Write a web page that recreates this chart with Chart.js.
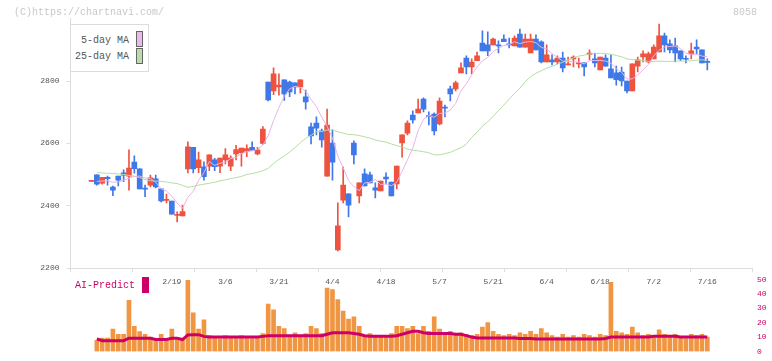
<!DOCTYPE html>
<html><head><meta charset="utf-8">
<script src="https://cdn.jsdelivr.net/npm/chart.js@4/dist/chart.umd.min.js"></script>
<style>
html,body{margin:0;padding:0;background:#fff;}
#wrap{position:relative;width:772px;height:361px;overflow:hidden;font-family:"Liberation Mono","DejaVu Sans Mono",monospace;}
canvas{position:absolute;left:0;}
#c1{top:0;}
#c2{top:270px;}
.t{position:absolute;white-space:pre;line-height:10px;font-size:10px;}
</style></head><body>
<div id="wrap">
<canvas id="c1" width="772" height="300"></canvas>
<canvas id="c2" width="772" height="91"></canvas>
<div class="t" style="left:14px;top:8px;color:#c8c8c8">(C)https://chartnavi.com/</div>
<div class="t" style="left:733px;top:8px;color:#c8c8c8">8058</div>
<div style="position:absolute;left:70px;top:24px;width:77px;height:46px;border:1px solid #dcdcdc;background:#fff;"></div>
<div class="t" style="left:81px;top:36px;color:#555">5-day MA</div>
<div class="t" style="left:75px;top:52px;color:#555">25-day MA</div>
<div style="position:absolute;left:136px;top:31px;width:5px;height:14px;border:1px solid #666;background:#ebb8eb;"></div>
<div style="position:absolute;left:136px;top:48px;width:5px;height:14px;border:1px solid #666;background:#b9dcac;"></div>
<div class="t" style="left:75px;top:281px;color:#cc0066">AI-Predict</div>
<div style="position:absolute;left:142px;top:277px;width:7px;height:16px;background:#cc0066;"></div>
</div>
<script>
// ---- data ----
const tickLabels = ['2/19','3/6','3/21','4/4','4/18','5/7','5/21','6/4','6/18','7/2','7/16'];
const tickIndex  = [15,25,35,45,55,65,75,85,95,105,115];
const priceTicks = [2200,2400,2600,2800];
const volTicks   = [0,10,20,30,40,50];

const open = [2478,2499,2472,2491,2460,2495,2505,2495,2540,2518,2456,2466,2486,2454,2417,2415,2369,2367,2518,2587,
 2522,2525,2527,2547,2527,2547,2527,2566,2570,2575,2587,2566,2600,2797,2768,2781,2804,2797,2794,2781,
 2749,2653,2665,2640,2495,2601,2258,2418,2438,2601,2431,2502,2499,2457,2447,2492,2476,2470,2601,2633,
 2691,2698,2742,2688,2694,2662,2715,2775,2775,2826,2874,2845,2865,2922,2916,2916,2916,2935,2919,2913,
 2951,2909,2890,2935,2926,2861,2868,2861,2874,2852,2871,2855,2858,2885,2871,2836,2874,2839,2826,2829,
 2800,2768,2848,2877,2861,2871,2893,2945,2919,2913,2897,2872,2887,2909,2900,2862];
const close = [2478,2469,2491,2487,2450,2482,2498,2521,2519,2454,2453,2489,2460,2415,2420,2373,2371,2381,2589,2518,
 2547,2493,2563,2525,2553,2563,2553,2580,2585,2583,2577,2579,2646,2739,2823,2787,2759,2765,2781,2804,
 2733,2624,2649,2611,2659,2540,2335,2466,2402,2563,2473,2463,2473,2450,2479,2486,2431,2527,2627,2665,
 2675,2710,2710,2686,2640,2736,2713,2759,2794,2842,2845,2861,2881,2897,2897,2935,2913,2926,2916,2938,
 2909,2935,2935,2900,2861,2884,2861,2874,2842,2853,2877,2858,2845,2890,2858,2877,2848,2810,2804,2800,
 2768,2855,2868,2887,2887,2909,2945,2916,2900,2890,2871,2870,2897,2903,2858,2860];
const high = [2478,2499,2491,2495,2463,2495,2515,2579,2560,2518,2466,2498,2498,2454,2437,2415,2380,2402,2605,2587,
 2572,2541,2563,2552,2553,2583,2560,2594,2585,2595,2605,2587,2654,2797,2842,2823,2804,2800,2794,2804,
 2771,2665,2685,2646,2710,2643,2409,2524,2438,2608,2473,2518,2508,2473,2479,2505,2476,2527,2627,2672,
 2704,2742,2746,2701,2698,2746,2723,2784,2800,2858,2881,2871,2893,2961,2958,2938,2929,2948,2938,2945,
 2967,2951,2951,2948,2929,2916,2884,2881,2893,2877,2881,2874,2858,2900,2890,2877,2884,2884,2848,2845,
 2800,2855,2877,2897,2893,2916,2983,2954,2932,2938,2897,2881,2922,2932,2900,2871];
const low = [2478,2466,2469,2466,2432,2463,2477,2450,2504,2454,2429,2460,2457,2412,2409,2373,2348,2367,2505,2505,
 2506,2482,2512,2512,2506,2534,2512,2547,2527,2557,2577,2563,2597,2736,2756,2755,2738,2750,2759,2762,
 2710,2598,2627,2588,2495,2482,2255,2409,2364,2534,2409,2463,2473,2425,2447,2470,2431,2454,2556,2627,
 2665,2698,2701,2659,2627,2659,2685,2736,2768,2826,2823,2823,2865,2897,2881,2916,2890,2926,2906,2913,
 2909,2909,2890,2900,2858,2861,2852,2855,2829,2852,2845,2842,2816,2868,2845,2836,2848,2810,2787,2784,
 2762,2768,2829,2861,2858,2871,2893,2893,2890,2861,2865,2858,2871,2887,2858,2836];
const ma5 = [null,2478,2479,2480,2475,2476,2482,2488,2494,2495,2489,2487,2475,2454,2447,2431,2408,2392,2427,2446,
 2481,2506,2542,2529,2536,2539,2551,2555,2567,2573,2576,2581,2594,2625,2673,2715,2751,2775,2783,2779,
 2768,2741,2718,2684,2655,2617,2559,2522,2480,2461,2448,2473,2475,2484,2468,2470,2464,2475,2510,2547,
 2585,2641,2677,2689,2684,2696,2697,2707,2728,2769,2791,2820,2845,2865,2876,2894,2905,2914,2917,2926,
 2920,2925,2927,2923,2908,2903,2888,2876,2864,2863,2861,2861,2855,2865,2866,2866,2864,2857,2839,2828,
 2806,2807,2819,2836,2853,2881,2899,2909,2911,2912,2904,2889,2886,2886,2880,2878];
const ma25 = [null,2506,2505,2504,2503,2502,2500,2497,2495,2490,2484,2480,2479,2478,2476,2473,2471,2465,2459,2462,
 2466,2469,2472,2475,2480,2483,2487,2490,2494,2500,2503,2507,2512,2520,2535,2549,2559,2572,2586,2602,
 2616,2626,2637,2638,2643,2643,2637,2633,2628,2628,2625,2621,2617,2611,2607,2604,2598,2593,2588,2582,
 2578,2576,2573,2570,2563,2563,2567,2571,2579,2586,2598,2619,2636,2655,2669,2687,2705,2723,2742,2760,
 2777,2798,2814,2825,2833,2841,2847,2854,2860,2868,2874,2880,2883,2887,2888,2889,2888,2886,2882,2878,
 2871,2869,2867,2866,2863,2863,2864,2863,2863,2864,2864,2864,2865,2867,2868,2867];
const volume = [null,7.7,9.4,9.4,15.6,11.9,11.9,35.6,17.5,13.8,11.9,10,8.1,11.9,8.1,15.6,8.1,8.1,49.4,26.9,
 15.6,22,11,10,9,11,10,10.5,11,10,9,10,12.5,33,29,17.5,16,11,13,10,
 12.5,17.5,16,12.5,44,43,36,28,22.5,24,17.5,11,12.5,10,11,11,12.5,17.5,17.5,16,
 17.5,12.5,17.5,14,24,15.6,12,14,12,13,12,11,12,17,20,14,12,11,12,11,
 13,12,14,12,16,13,11,10,12,10,11,10,12,11,10,12,11,48,14,13,
 12,17,13,11,12,11,15,12,11,12,10,9,12,11,12,10];
const aiPredict = [null,8.75,7.5,7.5,7.5,7.5,7.5,9.2,9.2,9.2,9.2,9.2,8.3,8.3,8.3,9.2,9.2,8.3,11.5,11.7,
 11.7,10.5,10,10,10,10,10,10,10,10,10,10,10.5,11,11,11,11,11,11,11,
 11,11,11,11,12,13,13,13,13,12.5,12,11,10.6,10.6,10.6,10.6,10.6,11,12,13,
 14,14,13,12.5,12.5,12.5,12.5,12.5,12,12,11,10,9.4,9.4,9.4,9.4,9.4,9.4,9.4,9.4,
 9,9,9,8.75,8.75,8.75,8.75,8.75,8.75,8.75,8.75,8.75,8.75,8.75,8.75,8.75,9,10,10,10,
 10,10,10,10,10,10.6,10.6,10.6,10.6,10.6,10,10,10,10,10,10];

// ---- styles / layout ----
const RED='#ee5340', BLUE='#3f78e8';
const MONO='"Liberation Mono","DejaVu Sans Mono",monospace';
const xMin=-3.92, xMax=123.4;
const gridTicks=[]; for(let k=0;k<=11;k++) gridTicks.push(xMin+k*(xMax-xMin)/11);
const idx = open.map((_,i)=>i);
const candleColor = idx.map(i=> close[i]>open[i] ? RED : (close[i]<open[i] ? BLUE : (i===0||i===16||i===89||i===91?RED:BLUE)));

new Chart(document.getElementById('c1'),{
  type:'bar',
  data:{datasets:[
    {type:'line',data:idx.map(i=>({x:i,y:ma5[i]})),borderColor:'#e9b4ea',borderWidth:1,pointRadius:0,tension:0,xAxisID:'x',yAxisID:'y'},
    {type:'line',data:idx.map(i=>({x:i,y:ma25[i]})),borderColor:'#b5dca6',borderWidth:1,pointRadius:0,tension:0,xAxisID:'x',yAxisID:'y'},
    {type:'bar',data:idx.map(i=>({x:i,y:[open[i],close[i]]})),backgroundColor:candleColor,barThickness:5,minBarLength:1,grouped:false,xAxisID:'x',yAxisID:'y'},
    {type:'bar',data:idx.map(i=>({x:i,y:[low[i],high[i]]})),backgroundColor:candleColor,barThickness:1,grouped:false,xAxisID:'x',yAxisID:'y'}
  ]},
  options:{
    responsive:false,animation:false,devicePixelRatio:1,
    layout:{padding:{left:0,right:19.7,top:18.7,bottom:0}},
    plugins:{legend:{display:false},tooltip:{enabled:false}},
    scales:{
      x:{type:'linear',min:xMin,max:xMax,position:'bottom',offset:false,
        afterBuildTicks:a=>{a.ticks=gridTicks.map(v=>({value:v}));},
        ticks:{display:false},
        grid:{display:true,offset:false,drawOnChartArea:false,drawTicks:true,tickLength:4,color:'#dddddd'},
        border:{display:true,color:'#dddddd'},
        afterFit:a=>{a.height=6;}},
      x2:{type:'linear',min:xMin,max:xMax,position:'bottom',offset:false,
        afterBuildTicks:a=>{a.ticks=tickIndex.map(v=>({value:v}));},
        ticks:{autoSkip:false,maxRotation:0,padding:3,color:'#555',font:{family:MONO,size:8},
          callback:(v)=>{const k=tickIndex.indexOf(Math.round(v));return k>=0?tickLabels[k]:'';}},
        grid:{display:false,drawTicks:false,offset:false},
        border:{display:false},
        afterFit:a=>{a.height=26;}},
      y:{type:'linear',min:2200,max:3000,position:'left',
        afterBuildTicks:a=>{a.ticks=priceTicks.map(v=>({value:v}));},
        ticks:{padding:7,color:'#555',font:{family:MONO,size:8},callback:(v)=>String(v)},
        grid:{display:true,drawOnChartArea:false,drawTicks:true,tickLength:4,color:'#dddddd'},
        border:{display:true,color:'#dddddd'},
        afterFit:a=>{a.width=70.5;}}
    }
  }
});

new Chart(document.getElementById('c2'),{
  type:'bar',
  data:{datasets:[
    {type:'line',data:idx.map(i=>({x:i,y:aiPredict[i]})),borderColor:'#cc0066',borderWidth:3,pointRadius:0,tension:0,xAxisID:'x',yAxisID:'y'},
    {type:'bar',data:idx.map(i=>({x:i,y:volume[i]})),backgroundColor:'#f09642',barThickness:4,grouped:false,xAxisID:'x',yAxisID:'y'}
  ]},
  options:{
    responsive:false,animation:false,devicePixelRatio:1,
    layout:{padding:{left:70.5,right:0,top:8,bottom:3}},
    plugins:{legend:{display:false},tooltip:{enabled:false}},
    scales:{
      x:{type:'linear',min:xMin,max:xMax,display:false,offset:false,grid:{offset:false}},
      y:{type:'linear',min:0,max:50,position:'right',
        afterBuildTicks:a=>{a.ticks=volTicks.map(v=>({value:v}));},
        ticks:{padding:4.7,color:'#cc0066',font:{family:MONO,size:8},callback:(v)=>String(v)},
        grid:{display:false,drawTicks:false},
        border:{display:false},
        afterFit:a=>{a.width=19.7;}}
    }
  }
});
</script>
</body></html>
